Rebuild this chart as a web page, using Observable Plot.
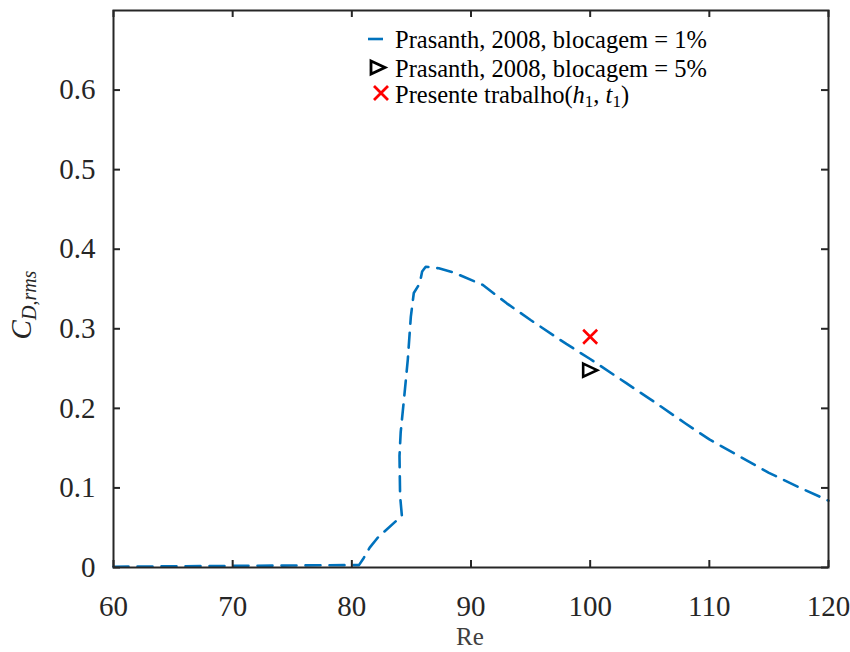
<!DOCTYPE html>
<html>
<head>
<meta charset="utf-8">
<script src="https://cdn.jsdelivr.net/npm/d3@7"></script>
<script src="https://cdn.jsdelivr.net/npm/@observablehq/plot@0.6"></script>
<style>
  html, body { margin: 0; padding: 0; background: #fff; }
  #chart { width: 850px; height: 652px; }
</style>
</head>
<body>
<div id="chart"></div>
<script>
// Prasanth (2008), blockage 1%: rms drag coefficient vs Reynolds number
const reynolds = [60, 65, 70, 75, 80, 80.6, 81.0, 81.5, 82.2, 84.2, 84.05, 84.0, 84.1, 84.4, 84.7, 84.95, 85.2, 85.7, 85.9, 86.2, 87.3, 88.5, 91.0, 93, 95, 98, 100, 103, 105, 108, 110, 112.5, 115, 117.5, 120];
const cdRms    = [0.001, 0.0015, 0.002, 0.0025, 0.003, 0.003, 0.012, 0.025, 0.038, 0.065, 0.09, 0.14, 0.17, 0.215, 0.262, 0.315, 0.345, 0.357, 0.372, 0.378, 0.376, 0.371, 0.355, 0.332, 0.311, 0.281, 0.262, 0.232, 0.212, 0.181, 0.161, 0.140, 0.119, 0.101, 0.084];

// Prasanth (2008), blockage 5%
const blockage5Re = [100];
const blockage5Cd = [0.248];

// Present work (h1, t1)
const presentRe = [100];
const presentCd = [0.29];

const xTicks = [60, 70, 80, 90, 100, 110, 120];
const yTicks = [0, 0.1, 0.2, 0.3, 0.4, 0.5, 0.6];

const curve = reynolds.map((re, i) => ({re, cd: cdRms[i]}));
const blockage5 = blockage5Re.map((re, i) => ({re, cd: blockage5Cd[i]}));
const present = presentRe.map((re, i) => ({re, cd: presentCd[i]}));

const serif = "'Liberation Serif', 'Times New Roman', serif";
const axisColor = "#262626";
const lineBlue = "#0072BD";

const W = 850, H = 652;
const mL = 113, mR = 22, mT = 10, mB = 85;
const xDomain = [60, 120], yDomain = [0, 0.7];

// tick length of 7px, expressed in data units
const tickPx = 7;
const tickX = tickPx * (xDomain[1] - xDomain[0]) / (W - mL - mR);
const tickY = tickPx * (yDomain[1] - yDomain[0]) / (H - mT - mB);

// right-pointing open triangle
const triangleRight = {
  draw(context, size) {
    const r = Math.sqrt(size / Math.PI);
    context.moveTo(-r, -0.93 * r);
    context.lineTo(r, 0);
    context.lineTo(-r, 0.93 * r);
    context.closePath();
  }
};
// diagonal cross
const cross = {
  draw(context, size) {
    const r = Math.sqrt(size / Math.PI);
    context.moveTo(-r, -r);
    context.lineTo(r, r);
    context.moveTo(r, -r);
    context.lineTo(-r, r);
  }
};

const fmtY = d => d === 0 ? "0" : d.toFixed(1);

const plot = Plot.plot({
  width: W,
  height: H,
  marginLeft: mL,
  marginRight: mR,
  marginTop: mT,
  marginBottom: mB,
  x: {domain: xDomain, ticks: xTicks, tickSize: 0, tickPadding: 28, label: null},
  y: {domain: yDomain, ticks: yTicks, tickSize: 0, tickPadding: 18, tickFormat: fmtY, label: null},
  style: {fontFamily: serif, fontSize: "29px", color: axisColor, background: "white", overflow: "visible"},
  marks: [
    Plot.line(curve, {x: "re", y: "cd", stroke: lineBlue, strokeWidth: 2.6, strokeDasharray: "15,9"}),
    Plot.dot(blockage5, {x: "re", y: "cd", symbol: triangleRight, r: 7, stroke: "black", fill: "none", strokeWidth: 2.6}),
    Plot.dot(present, {x: "re", y: "cd", symbol: cross, r: 7, stroke: "#FF0000", fill: "none", strokeWidth: 2.6}),
    Plot.frame({stroke: axisColor, strokeWidth: 2}),
    // inward ticks on all four sides
    Plot.ruleX(xTicks, {x: d => d, y1: yDomain[0], y2: yDomain[0] + tickY, stroke: axisColor, strokeWidth: 2}),
    Plot.ruleX(xTicks, {x: d => d, y1: yDomain[1] - tickY, y2: yDomain[1], stroke: axisColor, strokeWidth: 2}),
    Plot.ruleY(yTicks, {y: d => d, x1: xDomain[0], x2: xDomain[0] + tickX, stroke: axisColor, strokeWidth: 2}),
    Plot.ruleY(yTicks, {y: d => d, x1: xDomain[1] - tickX, x2: xDomain[1], stroke: axisColor, strokeWidth: 2})
  ]
});

document.getElementById("chart").appendChild(plot);

const svg = d3.select(plot);

// x axis label
svg.append("text")
  .attr("x", 470).attr("y", 645)
  .attr("text-anchor", "middle")
  .attr("font-family", serif).attr("font-size", 25)
  .attr("fill", "#404040")
  .text("Re");

// y axis label C_{D,rms}
const yLab = svg.append("text")
  .attr("transform", "translate(31,305) rotate(-90)")
  .attr("text-anchor", "middle")
  .attr("font-family", serif)
  .attr("fill", axisColor);
yLab.append("tspan").attr("font-size", 29).attr("font-style", "italic").text("C");
yLab.append("tspan").attr("font-size", 20).attr("dy", 5).attr("font-style", "italic").text("D");
yLab.append("tspan").attr("font-size", 20).text(",");
yLab.append("tspan").attr("font-size", 20).attr("font-style", "italic").text("rms");

// legend
const legend = svg.append("g")
  .attr("font-family", serif)
  .attr("font-size", 24.5)
  .attr("text-anchor", "start")
  .attr("fill", "black");

legend.append("line")
  .attr("x1", 368).attr("x2", 383).attr("y1", 39).attr("y2", 39)
  .attr("stroke", lineBlue).attr("stroke-width", 2.6);
legend.append("text").attr("x", 395).attr("y", 48)
  .text("Prasanth, 2008, blocagem = 1%");

legend.append("path")
  .attr("d", "M371,61 L385,67.5 L371,74 Z")
  .attr("fill", "none").attr("stroke", "black").attr("stroke-width", 2.8);
legend.append("text").attr("x", 395).attr("y", 77)
  .text("Prasanth, 2008, blocagem = 5%");

legend.append("path")
  .attr("d", "M374,86 L388,100 M388,86 L374,100")
  .attr("fill", "none").attr("stroke", "#FF0000").attr("stroke-width", 2.8);
const t3 = legend.append("text").attr("x", 395).attr("y", 103);
t3.append("tspan").text("Presente trabalho(");
t3.append("tspan").attr("font-style", "italic").text("h");
t3.append("tspan").attr("font-size", 17).attr("dy", 4).text("1");
t3.append("tspan").attr("dy", -4).text(", ");
t3.append("tspan").attr("font-style", "italic").text("t");
t3.append("tspan").attr("font-size", 17).attr("dy", 4).text("1");
t3.append("tspan").attr("dy", -4).text(")");
</script>
</body>
</html>
